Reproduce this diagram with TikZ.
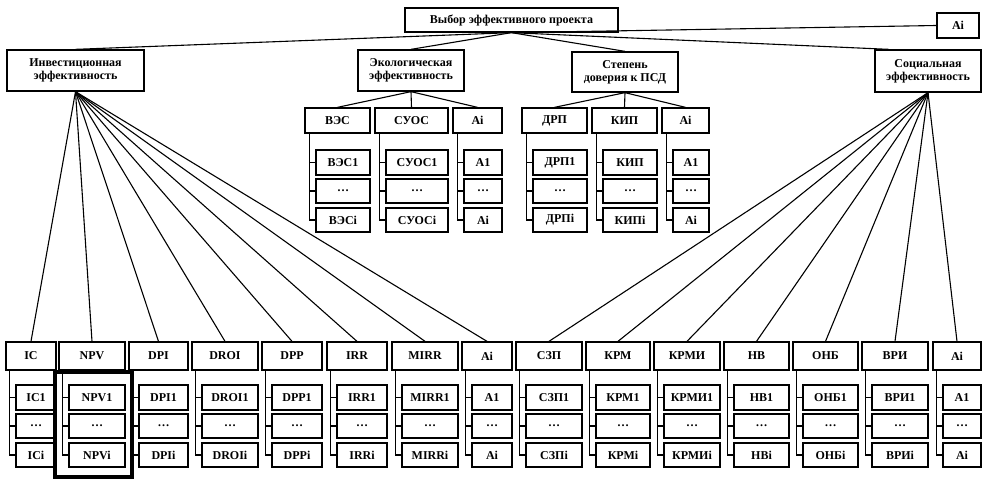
\documentclass[tikz,border=0pt]{standalone}
\usepackage{fontspec}
\setmainfont{Liberation Serif}
\begin{document}
\begin{tikzpicture}[x=1pt,y=-1pt,
  blk/.style={draw, line width=1.3pt, inner sep=0pt, align=center,
    font=\bfseries\fontsize{12}{13}\selectfont},
  lnk/.style={line width=1.1pt}]
\useasboundingbox (0,0) rectangle (991,481);
% upper levels
\node[blk, minimum width=213, minimum height=24] (top) at (511.5,20) {Выбор эффективного проекта};
\node[blk, minimum width=42, minimum height=25] (ai0) at (958,25.5) {Ai};
\node[blk, minimum width=137, minimum height=41] (inv) at (75.5,70.5) {Инвестиционная\\эффективность};
\node[blk, minimum width=106, minimum height=41] (eco) at (411,70.5) {Экологическая\\эффективность};
\node[blk, minimum width=106, minimum height=40] (psd) at (625,72) {Степень\\доверия к ПСД};
\node[blk, minimum width=106, minimum height=42] (soc) at (928,71) {Социальная\\эффективность};
\draw[lnk] (top.south) -- (ai0.west);
\draw[lnk] (top.south) -- (inv.north);
\draw[lnk] (top.south) -- (eco.north);
\draw[lnk] (top.south) -- (psd.north);
\draw[lnk] (top.south) -- (soc.151);
% middle groups
\foreach \l/\r/\n/\a/\b [count=\i] in {305/370/ВЭС/ВЭС1/ВЭСi, 375/448/СУОС/СУОС1/СУОСi, 453/502/Ai/A1/Ai,
    522/587/ДРП/ДРП1/ДРПi, 592/657/КИП/КИП/КИПi, 662/709/Ai/A1/Ai}{
  \node[blk, minimum width=\r-\l, minimum height=25] (m\i) at ({(\l+\r)/2},120.5) {\n};
  \node[blk, minimum width=\r-\l-11, minimum height=25] (m\i-1) at ({(\l+11+\r)/2},162.5) {\a};
  \node[blk, minimum width=\r-\l-11, minimum height=24] (m\i-2) at ({(\l+11+\r)/2},191) {\dots};
  \node[blk, minimum width=\r-\l-11, minimum height=24] (m\i-3) at ({(\l+11+\r)/2},220) {\b};
  \foreach \k in {1,2,3}
    \draw[lnk] ([xshift=5pt]m\i.south west) |- (m\i-\k.west);
}
\foreach \i in {1,2,3} \draw[lnk] (eco.south) -- (m\i.north);
\foreach \i in {4,5,6} \draw[lnk] (psd.south) -- (m\i.north);
% bottom groups
\foreach \l/\r/\n/\a/\b [count=\i] in {6/56/IC/IC1/ICi, 59/125/NPV/NPV1/NPVi, 129/188/DPI/DPI1/DPIi,
    192/258/DROI/DROI1/DROIi, 262/322/DPP/DPP1/DPPi, 327/387/IRR/IRR1/IRRi, 392/458/MIRR/MIRR1/MIRRi,
    462/512/Ai/A1/Ai, 516/582/СЗП/СЗП1/СЗПi, 586/650/КРМ/КРМ1/КРМi, 654/720/КРМИ/КРМИ1/КРМИi,
    724/789/НВ/НВ1/НВi, 793/858/ОНБ/ОНБ1/ОНБi, 862/928/ВРИ/ВРИ1/ВРИi, 933/981/Ai/A1/Ai}{
  \node[blk, minimum width=\r-\l, minimum height=28] (b\i) at ({(\l+\r)/2},356) {\n};
  \node[blk, minimum width=\r-\l-10, minimum height=25] (b\i-1) at ({(\l+10+\r)/2},397.5) {\a};
  \node[blk, minimum width=\r-\l-10, minimum height=24] (b\i-2) at ({(\l+10+\r)/2},426) {\dots};
  \node[blk, minimum width=\r-\l-10, minimum height=24] (b\i-3) at ({(\l+10+\r)/2},455) {\b};
  \foreach \k in {1,2,3}
    \draw[lnk] ([xshift=4pt]b\i.south west) |- (b\i-\k.west);
}
\foreach \i in {1,...,8} \draw[lnk] (inv.south) -- (b\i.north);
\foreach \i in {9,...,15} \draw[lnk] (soc.south) -- (b\i.north);
% highlighted group
\draw[line width=3.5pt] (55,372) rectangle (132,477);
\end{tikzpicture}
\end{document}
